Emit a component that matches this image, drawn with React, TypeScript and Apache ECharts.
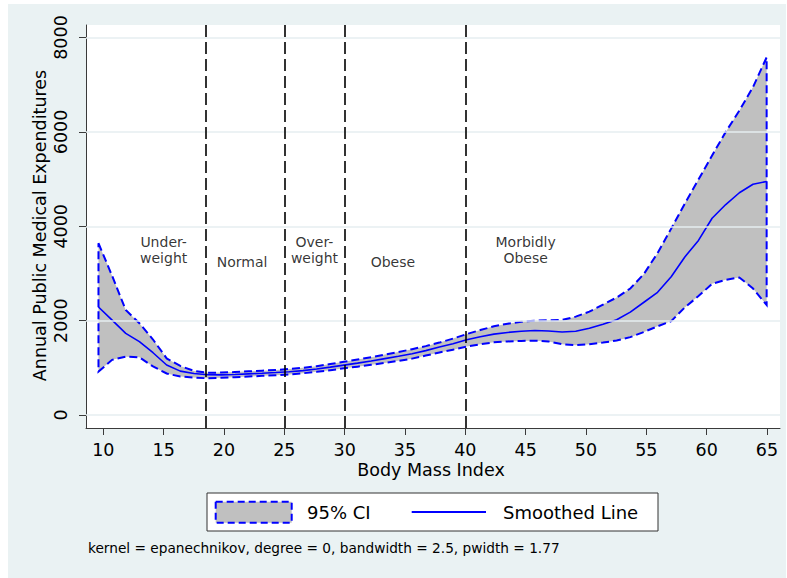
import React, { useEffect, useRef } from 'react';
import * as echarts from 'echarts';

// ---- data ----
const BMI = [9.60, 10.73, 11.86, 12.99, 14.12, 15.25, 16.38, 17.51, 18.64, 19.77, 20.90, 22.03, 23.16, 24.29, 25.42, 26.55, 27.68, 28.81, 29.94, 31.07, 32.20, 33.33, 34.46, 35.59, 36.72, 37.85, 38.98, 40.11, 41.24, 42.37, 43.50, 44.63, 45.76, 46.89, 48.02, 49.15, 50.28, 51.41, 52.54, 53.67, 54.80, 55.93, 57.06, 58.19, 59.32, 60.45, 61.58, 62.71, 63.84, 64.97];
const SMOOTHED = [2290, 2010, 1730, 1555, 1320, 1060, 930, 880, 855, 850, 860, 872, 885, 900, 918, 940, 975, 1015, 1058, 1100, 1145, 1195, 1245, 1300, 1365, 1440, 1510, 1595, 1660, 1715, 1750, 1775, 1790, 1780, 1760, 1775, 1840, 1925, 2020, 2180, 2390, 2600, 2930, 3350, 3700, 4170, 4460, 4710, 4890, 4950];
const CI_UPPER = [3640, 2950, 2225, 1945, 1600, 1200, 1040, 935, 895, 900, 910, 925, 940, 955, 975, 1000, 1035, 1080, 1128, 1175, 1225, 1280, 1335, 1395, 1460, 1535, 1620, 1715, 1800, 1880, 1935, 1975, 2000, 2010, 2015, 2085, 2190, 2340, 2490, 2680, 2990, 3430, 3950, 4480, 4990, 5500, 6000, 6450, 6950, 7580];
const CI_LOWER = [920, 1170, 1236, 1223, 1030, 880, 815, 795, 778, 790, 800, 815, 830, 842, 860, 885, 915, 950, 990, 1025, 1065, 1105, 1148, 1195, 1260, 1325, 1385, 1450, 1500, 1540, 1560, 1570, 1575, 1560, 1500, 1480, 1500, 1535, 1580, 1650, 1760, 1880, 1990, 2280, 2520, 2780, 2865, 2915, 2680, 2330];

const X_TICKS = [10, 15, 20, 25, 30, 35, 40, 45, 50, 55, 60, 65];
const Y_TICKS = [0, 2000, 4000, 6000, 8000];
const CUTOFFS = [18.5, 25, 30, 40];

const ANNOT_X = [15, 21.5, 27.5, 34, 45];
const ANNOT_Y = [3500, 3250, 3500, 3250, 3500];
const ANNOT_TEXT = ['Under-\nweight', 'Normal', 'Over-\nweight', 'Obese', 'Morbidly\nObese'];

const X_TITLE = 'Body Mass Index';
const Y_TITLE = 'Annual Public Medical Expenditures';
const LEGEND_CI = '95% CI';
const LEGEND_LINE = 'Smoothed Line';
const NOTE = 'kernel = epanechnikov, degree = 0, bandwidth = 2.5, pwidth = 1.77';

// ---- styling ----
const FONT = 'DejaVu Sans';
const BG = '#EAF2F3';
const GRIDLINE = '#E6EEF1';
const BLUE = '#0000FF';
const FILL = '#C0C0C0';
const AXIS = '#3a3a3a';

export default function App() {
  const ref = useRef<HTMLDivElement>(null);

  useEffect(() => {
    document.body.style.margin = '0';
    const chart = echarts.init(ref.current as HTMLDivElement, null, { renderer: 'svg' });

    const option: any = {
      animation: false,
      textStyle: { fontFamily: FONT },
      grid: { left: 86, top: 25, width: 694, height: 403, containLabel: false },
      xAxis: {
        type: 'value',
        min: 8.566,
        max: 66.077,
        axisLine: { show: true, onZero: false, lineStyle: { color: AXIS, width: 1 } },
        axisTick: { show: true, length: 7, customValues: X_TICKS, lineStyle: { color: AXIS, width: 1 } },
        axisLabel: { customValues: X_TICKS, margin: 13, fontSize: 17.5, color: '#000', fontFamily: FONT },
        splitLine: { show: false },
      },
      yAxis: {
        type: 'value',
        min: -275,
        max: 8265,
        axisLine: { show: true, onZero: false, lineStyle: { color: AXIS, width: 1 } },
        axisTick: { show: true, length: 7, customValues: Y_TICKS, lineStyle: { color: AXIS, width: 1 } },
        axisLabel: {
          customValues: Y_TICKS,
          rotate: 90,
          margin: 16,
          fontSize: 17.5,
          color: '#000',
          fontFamily: FONT,
          formatter: (v: number) => String(v),
        },
        splitLine: { show: false },
      },
      graphic: [
        { type: 'rect', z: -20, silent: true, shape: { x: 8, y: 4, width: 778, height: 574 }, style: { fill: BG } },
        { type: 'rect', z: -19, silent: true, shape: { x: 86, y: 25, width: 694, height: 403 }, style: { fill: '#fff' } },
        {
          type: 'text', z: 50, x: 39.5, y: 225.5, rotation: Math.PI / 2,
          style: { text: Y_TITLE, fontSize: 17.5, fontFamily: FONT, fill: '#000', align: 'center', verticalAlign: 'middle', textAlign: 'center', textVerticalAlign: 'middle' },
        },
        {
          type: 'text', z: 50, x: 431, y: 470,
          style: { text: X_TITLE, fontSize: 17.5, fontFamily: FONT, fill: '#000', align: 'center', verticalAlign: 'middle', textAlign: 'center', textVerticalAlign: 'middle' },
        },
        // legend
        { type: 'rect', z: 50, shape: { x: 207, y: 493, width: 451, height: 38 }, style: { fill: '#fff', stroke: '#333', lineWidth: 1 } },
        { type: 'rect', z: 51, shape: { x: 215.7, y: 501.7, width: 76, height: 21 }, style: { fill: FILL, stroke: BLUE, lineWidth: 2, lineDash: [7, 4] } },
        {
          type: 'text', z: 51, x: 307, y: 512,
          style: { text: LEGEND_CI, fontSize: 18, fontFamily: FONT, fill: '#000', align: 'left', verticalAlign: 'middle', textAlign: 'left', textVerticalAlign: 'middle' },
        },
        { type: 'line', z: 51, shape: { x1: 411.7, y1: 512, x2: 486, y2: 512 }, style: { stroke: BLUE, lineWidth: 1.8 } },
        {
          type: 'text', z: 51, x: 503, y: 512,
          style: { text: LEGEND_LINE, fontSize: 18, fontFamily: FONT, fill: '#000', align: 'left', verticalAlign: 'middle', textAlign: 'left', textVerticalAlign: 'middle' },
        },
        {
          type: 'text', z: 50, x: 88, y: 547.5,
          style: { text: NOTE, fontSize: 13.7, fontFamily: FONT, fill: '#000', align: 'left', verticalAlign: 'middle', textAlign: 'left', textVerticalAlign: 'middle' },
        },
      ],
      series: [
        {
          name: 'refs',
          type: 'line',
          z: 1,
          data: [],
          silent: true,
          markLine: {
            silent: true,
            symbol: ['none', 'none'],
            label: { show: false },
            animation: false,
            data: [
              ...Y_TICKS.map((v) => ({ yAxis: v, lineStyle: { color: GRIDLINE, width: 1.5, type: 'solid' } })),
              ...CUTOFFS.map((v) => ({ xAxis: v, lineStyle: { color: '#000', width: 1.6, type: [12, 5] } })),
            ],
          },
        },
        {
          name: LEGEND_CI,
          type: 'custom',
          z: 2,
          silent: true,
          data: [[BMI[0], CI_LOWER[0]]],
          renderItem: (_params: any, api: any) => {
            const pts: number[][] = [];
            for (let i = 0; i < BMI.length; i++) pts.push(api.coord([BMI[i], CI_UPPER[i]]));
            for (let i = BMI.length - 1; i >= 0; i--) pts.push(api.coord([BMI[i], CI_LOWER[i]]));
            return {
              type: 'polygon',
              shape: { points: pts },
              style: { fill: FILL, stroke: BLUE, lineWidth: 2, lineDash: [8, 4] },
            };
          },
        },
        {
          name: LEGEND_LINE,
          type: 'line',
          z: 3,
          silent: true,
          symbol: 'none',
          data: BMI.map((x, i) => [x, SMOOTHED[i]]),
          lineStyle: { color: BLUE, width: 1.6 },
        },
        {
          name: 'labels',
          type: 'scatter',
          z: 4,
          silent: true,
          symbolSize: 1,
          itemStyle: { color: 'rgba(0,0,0,0)' },
          data: ANNOT_X.map((x, i) => ({ value: [x, ANNOT_Y[i]], name: ANNOT_TEXT[i] })),
          label: {
            show: true,
            position: 'inside',
            formatter: '{b}',
            fontSize: 14,
            lineHeight: 16,
            align: 'center',
            color: '#000',
            fontFamily: FONT,
          },
        },
      ],
    };

    chart.setOption(option);
    return () => chart.dispose();
  }, []);

  return <div ref={ref} style={{ width: 787, height: 578, background: '#fff' }} />;
}
